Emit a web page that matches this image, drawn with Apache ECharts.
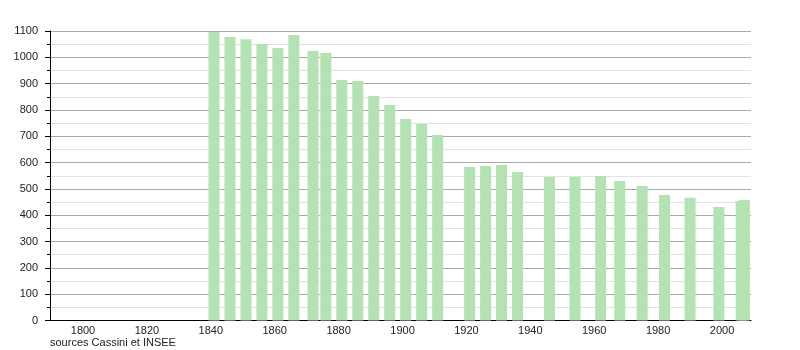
<!DOCTYPE html>
<html>
<head>
<meta charset="utf-8">
<script src="https://cdn.jsdelivr.net/npm/echarts@6/dist/echarts.min.js"></script>
<style>
html,body{margin:0;padding:0;background:#fff;}
#chart{width:800px;height:350px;}
</style>
</head>
<body>
<div id="chart"></div>
<script>
var years = [1841,1846,1851,1856,1861,1866,1872,1876,1881,1886,1891,1896,1901,1906,1911,1921,1926,1931,1936,1946,1954,1962,1968,1975,1982,1990,1999,2006,2007];
var population = [1096,1077,1069,1051,1035,1085,1024,1016,914,910,853,819,766,747,705,583,587,591,564,545,545,549,530,511,477,466,431,454,458];
var xTickLabels = [1800,1820,1840,1860,1880,1900,1920,1940,1960,1980,2000];
var sourceText = 'sources Cassini et INSEE';

var chart = echarts.init(document.getElementById('chart'), null, {renderer:'canvas'});
var font = 'Liberation Sans, Arial, sans-serif';
function plain(v){ return String(v); }
chart.setOption({
  animation: false,
  grid: {left: 50, right: 49, top: 31, bottom: 29.5, containLabel: false},
  xAxis: {
    type: 'value',
    min: 1789.67,
    max: 2009.07,
    axisLine: {show: true, onZero: false, lineStyle: {color: '#000', width: 1}},
    axisTick: {show: false},
    splitLine: {show: false},
    axisLabel: {customValues: xTickLabels, formatter: plain, color: '#222', fontSize: 11, fontFamily: font, margin: 5}
  },
  yAxis: {
    type: 'value',
    min: 0, max: 1100, interval: 100,
    axisLine: {show: true, lineStyle: {color: '#000', width: 1}},
    axisTick: {show: true, length: 5, lineStyle: {color: '#000'}},
    minorTick: {show: true, splitNumber: 2, length: 3, lineStyle: {color: '#000'}},
    splitLine: {show: true, lineStyle: {color: '#aaaaaa', width: 1}},
    minorSplitLine: {show: true, lineStyle: {color: '#e2e2e2', width: 1}},
    axisLabel: {formatter: plain, color: '#222', fontSize: 11, fontFamily: font, margin: 12}
  },
  series: [{
    type: 'bar',
    barWidth: 11,
    itemStyle: {color: '#b3e3b3'},
    data: years.map(function(y, i){ return [y, population[i]]; }),
    z: 3
  }],
  graphic: [{
    type: 'text',
    left: 50, top: 337,
    style: {text: sourceText, fill: '#222', font: '11px ' + font}
  }]
});
</script>
</body>
</html>
